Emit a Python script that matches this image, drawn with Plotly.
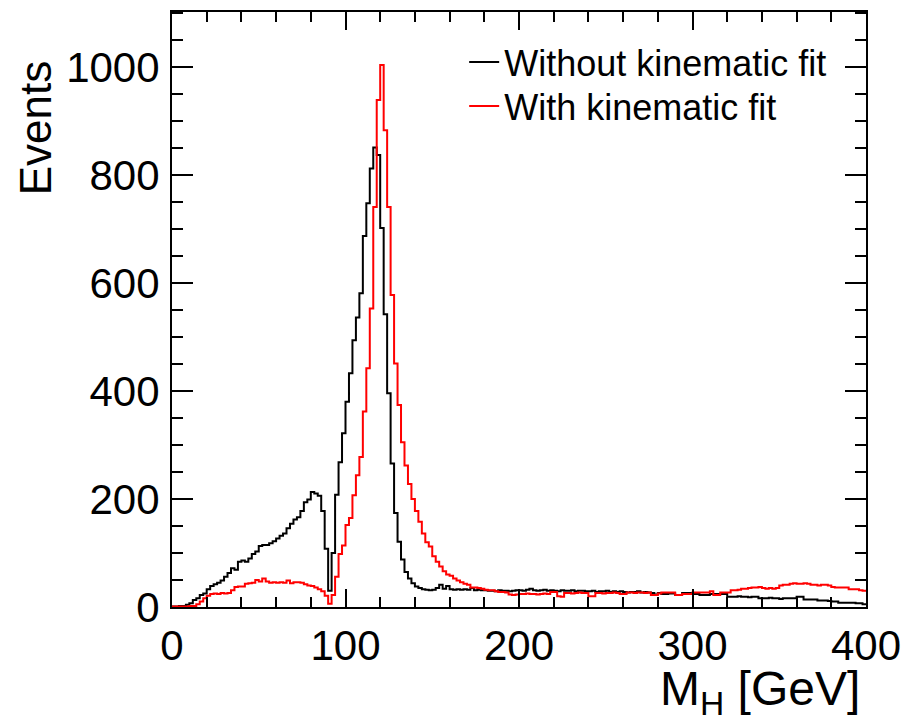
import numpy as np
import plotly.graph_objects as go

# Histogram: 200 bins of 2 GeV from 0 to 400
bin_width = 2.0
x_min, x_max = 0.0, 400.0

without_fit = [
    1, 1, 2, 2, 4, 7, 13, 16, 22, 25,
    33, 39, 42, 45, 49, 56, 63, 72, 69, 84,
    86, 84, 90, 98, 103, 113, 115, 115, 118, 122,
    127, 132, 136, 146, 154, 162, 166, 178, 194, 199,
    213, 210, 206, 178, 108, 30, 100, 208, 268, 322,
    380, 433, 494, 536, 581, 687, 748, 812, 851, 837,
    702, 542, 396, 266, 174, 121, 88, 65, 53, 44,
    38, 35, 33, 32, 31, 32, 35, 41, 34, 39,
    33, 32, 33, 32, 33, 32, 35, 31, 32, 31,
    31, 30, 30, 29, 31, 30, 30, 29, 30, 31,
    31, 30, 32, 34, 31, 30, 31, 32, 30, 31,
    30, 29, 31, 30, 30, 31, 29, 30, 30, 29,
    29, 30, 28, 29, 29, 30, 28, 29, 28, 29,
    28, 27, 28, 28, 29, 27, 28, 27, 26, 23,
    26, 24, 24, 25, 25, 22, 22, 26, 26, 26,
    24, 24, 22, 22, 22, 24, 24, 24, 24, 24,
    19, 19, 19, 20, 19, 19, 18, 19, 19, 16,
    16, 16, 17, 16, 16, 15, 16, 16, 16, 16,
    19, 19, 14, 14, 14, 14, 12, 12, 12, 11,
    10, 10, 8, 8, 8, 8, 8, 7, 7, 5,
]

with_fit = [
    1, 1, 1, 1, 1, 2, 2, 5, 10, 16,
    21, 24, 25, 24, 26, 25, 26, 31, 37, 38,
    38, 43, 44, 45, 50, 47, 53, 47, 45, 46,
    45, 46, 45, 49, 44, 46, 46, 45, 42, 40,
    39, 36, 33, 29, 21, 6, 22, 56, 98, 114,
    152, 165, 207, 244, 278, 362, 442, 553, 741, 939,
    1004, 883, 741, 578, 451, 374, 305, 262, 228, 200,
    178, 158, 136, 120, 112, 94, 84, 75, 66, 60,
    58, 53, 49, 46, 43, 41, 36, 36, 35, 34,
    32, 31, 31, 29, 28, 28, 27, 23, 22, 23,
    24, 24, 25, 24, 24, 23, 24, 25, 24, 28,
    28, 20, 19, 26, 26, 25, 26, 27, 26, 26,
    20, 20, 26, 26, 25, 26, 26, 27, 26, 24,
    24, 27, 27, 26, 27, 27, 26, 27, 22, 22,
    25, 27, 27, 27, 27, 22, 22, 24, 24, 24,
    27, 27, 27, 27, 27, 29, 22, 22, 27, 27,
    27, 31, 31, 32, 34, 34, 35, 36, 36, 37,
    35, 34, 35, 34, 35, 40, 41, 41, 43, 44,
    43, 43, 44, 43, 41, 41, 40, 41, 41, 40,
    37, 36, 36, 36, 36, 33, 33, 33, 31, 30,
]

series_names = ["Without kinematic fit", "With kinematic fit"]
series_colors = ["#000000", "#ff0000"]
legend_ids = ["legend", "legend2"]

x_ticks = [0, 100, 200, 300, 400]
y_ticks = [0, 200, 400, 600, 800, 1000]
y_max = 1102

edges = np.arange(len(without_fit) + 1) * bin_width + x_min

FONT = "Liberation Sans, Arial, Helvetica, sans-serif"

fig = go.Figure()
for name, vals, col, lg in zip(series_names, [without_fit, with_fit], series_colors, legend_ids):
    yv = list(vals) + [vals[-1]]
    fig.add_trace(go.Scatter(
        x=edges, y=yv, mode="lines", name=name, legend=lg,
        line=dict(color=col, width=2, shape="hv"),
        hoverinfo="skip",
    ))

leg_common = dict(
    xanchor="left", yanchor="middle",
    bgcolor="rgba(0,0,0,0)", borderwidth=0,
    font=dict(size=36, family=FONT, color="black"),
    itemwidth=30,
)

fig.update_layout(
    width=905, height=721,
    margin=dict(l=172, r=39, t=12, b=114, autoexpand=False),
    paper_bgcolor="white", plot_bgcolor="white",
    font=dict(family=FONT, color="black"),
    showlegend=True,
    legend=dict(x=0.421, y=0.916, **leg_common),
    legend2=dict(x=0.421, y=0.842, **leg_common),
)

fig.update_xaxes(
    range=[x_min, x_max], tickvals=x_ticks, ticktext=[str(v) for v in x_ticks],
    showline=True, linecolor="black", linewidth=2, mirror="allticks",
    ticks="inside", ticklen=18, tickwidth=2, tickcolor="black",
    tickfont=dict(size=42, family=FONT, color="black"),
    minor=dict(dtick=20, ticks="inside", ticklen=10, tickwidth=2, tickcolor="black", showgrid=False),
    showgrid=False, zeroline=False, ticklabelstandoff=1, automargin=False,
)
fig.update_yaxes(
    range=[0, y_max], tickvals=y_ticks, ticktext=[str(v) for v in y_ticks],
    showline=True, linecolor="black", linewidth=2, mirror="allticks",
    ticks="inside", ticklen=21, tickwidth=2, tickcolor="black",
    tickfont=dict(size=42, family=FONT, color="black"),
    minor=dict(dtick=50, ticks="inside", ticklen=11, tickwidth=2, tickcolor="black", showgrid=False),
    showgrid=False, zeroline=False, ticklabelstandoff=2, automargin=False,
)

fig.add_annotation(
    text="M<sub>H</sub> [GeV]", xref="paper", yref="paper",
    x=0.994, y=-0.143, xanchor="right", yanchor="middle", showarrow=False,
    font=dict(size=48, family=FONT, color="black"),
)
fig.add_annotation(
    text="Events", xref="paper", yref="paper",
    x=-0.197, y=0.805, xanchor="center", yanchor="middle", showarrow=False,
    textangle=-90,
    font=dict(size=44, family=FONT, color="black"),
)

fig.write_html("out.html")
